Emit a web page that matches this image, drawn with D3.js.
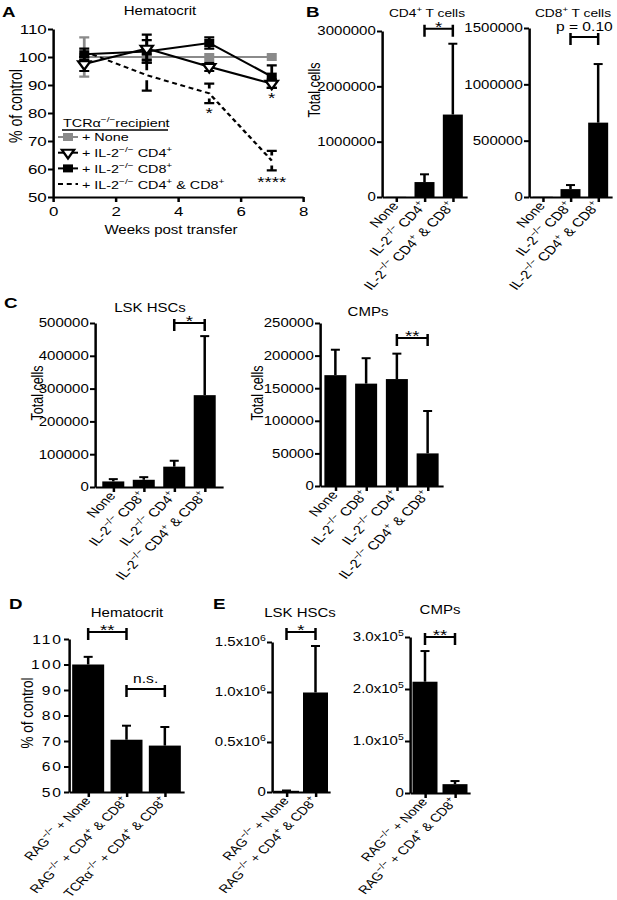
<!DOCTYPE html>
<html>
<head>
<meta charset="utf-8"/>
<script src="https://cdn.jsdelivr.net/npm/d3@7"></script>
<style>
  body { margin: 0; background: #fff; }
</style>
</head>
<body>
<svg width="617" height="900"></svg>
<script>
// ---- data ----
// A: hematocrit over time (% of control)
var aWeeks = [1, 3, 5, 7];
var aNone = [100, 100, 100, 100], aNoneSd = [7, 0, 0, 0];
var aCD4 = [97.5, 103, 96.5, 90.5], aCD4Sd = [2.5, 5, 1.5, 1.5];
var aCD8 = [101, 102, 105, 93], aCD8Sd = [2, 4, 2, 4];
var aBoth = [102, 93.5, 87, 63], aBothSd = [1, 5.5, 3.5, 3.5];
var aXTicks = [0, 2, 4, 6, 8];
var aYTicks = [50, 60, 70, 80, 90, 100, 110];
var aLegend = ["+ None", "+ IL-2{−/−} CD4{+}", "+ IL-2{−/−} CD8{+}", "+ IL-2{−/−} CD4{+} & CD8{+}"];
var aStars = [[5, 81, "*"], [7, 86.5, "*"], [7, 56.5, "****"]];

// B: T cell counts
var bCats4 = ["None", "IL-2{−/−} CD4{+}", "IL-2{−/−} CD4{+} & CD8{+}"];
var bCD4 = [3000, 270000, 1490000], bCD4Err = [0, 140000, 1280000];
var bTicks4 = [0, 1000000, 2000000, 3000000];
var bCats8 = ["None", "IL-2{−/−} CD8{+}", "IL-2{−/−} CD4{+} & CD8{+}"];
var bCD8 = [2000, 70000, 660000], bCD8Err = [0, 36000, 520000];
var bTicks8 = [0, 500000, 1000000, 1500000];

// C: progenitors
var cCats = ["None", "IL-2{−/−} CD8{+}", "IL-2{−/−} CD4{+}", "IL-2{−/−} CD4{+} & CD8{+}"];
var cLSK = [17000, 22000, 62000, 280000], cLSKErr = [7000, 8000, 18000, 180000];
var cLSKTicks = [0, 100000, 200000, 300000, 400000, 500000];
var cCMP = [170000, 157000, 164000, 50000], cCMPErr = [39000, 39000, 39000, 65000];
var cCMPTicks = [0, 50000, 100000, 150000, 200000, 250000];

// D: hematocrit in RAG recipients
var dCats = ["RAG{−/−} + None", "RAG{−/−} + CD4{+} & CD8{+}", "TCRα{−/−} + CD4{+} & CD8{+}"];
var dHct = [100, 70.5, 68.2], dHctErr = [3, 5.5, 7.3];
var dTicks = [50, 60, 70, 80, 90, 100, 110];

// E: progenitors in RAG recipients
var eCats = ["RAG{−/−} + None", "RAG{−/−} + CD4{+} & CD8{+}"];
var eLSK = [12000, 995000], eLSKErr = [3000, 465000];
var eLSKTicks = [0, 500000, 1000000, 1500000];
var eLSKLabels = ["0", "0.5x10{6}", "1.0x10{6}", "1.5x10{6}"];
var eCMP = [214000, 17000], eCMPErr = [59000, 6000];
var eCMPTicks = [0, 100000, 200000, 300000];
var eCMPLabels = ["0", "1.0x10{5}", "2.0x10{5}", "3.0x10{5}"];

// ---- drawing ----
var S = 1.25;                 // the figure is stretched horizontally
var X = function(v) { return v / S; };
var FONT = '"Liberation Sans", Arial, Helvetica, sans-serif';
var ANG = -51.3;              // gives 45 degrees after the stretch

var svg = d3.select("svg");
var root = svg.append("g").attr("transform", "scale(" + S + ",1)")
  .attr("font-family", FONT);

// text with {superscript} parts
function rich(sel, str, fs) {
  var parts = str.split(/(\{[^}]*\})/).filter(function(p) { return p; });
  var up = false;
  parts.forEach(function(p) {
    var sup = p[0] == "{";
    var t = sel.append("tspan").text(sup ? p.slice(1, -1) : p);
    if (sup) t.attr("font-size", fs * 0.7).attr("dy", up ? 0 : -fs * 0.42);
    else if (up) t.attr("dy", fs * 0.42);
    up = sup;
  });
}

function styleAxis(g, fs) {
  g.attr("font-family", FONT).attr("font-size", fs);
  g.select(".domain").attr("stroke", "#000").attr("stroke-width", 2);
  g.selectAll(".tick line").attr("stroke", "#000").attr("stroke-width", 2);
  g.selectAll(".tick text").attr("fill", "#000");
}

function txt(g, x, y, str, fs, anchor) {
  var t = g.append("text").attr("x", X(x)).attr("y", y).attr("font-size", fs)
    .attr("text-anchor", anchor || "middle").attr("fill", "#000");
  rich(t, str, fs);
  return t;
}

function ylabel(g, x, y, str, fs) {
  g.append("text").attr("transform", "translate(" + X(x) + "," + y + ") rotate(-90)")
    .attr("text-anchor", "middle").attr("font-size", fs).text(str);
}

function letter(x, y, s) {
  root.append("text").attr("x", X(x)).attr("y", y).attr("font-size", 15)
    .attr("font-weight", "bold").text(s);
}

function barPanel(p) {
  var g = root.append("g");
  var y0 = p.yMin || 0;
  var x = d3.scalePoint().domain(p.cats).range([X(p.x0), X(p.x1)]).padding(p.pad || 0.5);
  var y = d3.scaleLinear().domain([y0, p.yMax]).range([p.yBot, p.yTop]);
  var bw = X(p.barW), cap = X(4.5);
  var rows = p.cats.map(function(c, i) { return {c: c, v: p.vals[i], e: p.errs[i]}; });

  // error bars (up only)
  var eb = g.selectAll(".eb").data(rows.filter(function(d) { return d.e > 0; })).join("g");
  eb.append("line").attr("x1", function(d) { return x(d.c); }).attr("x2", function(d) { return x(d.c); })
    .attr("y1", function(d) { return y(d.v); }).attr("y2", function(d) { return y(d.v + d.e); });
  eb.append("line").attr("x1", function(d) { return x(d.c) - cap; }).attr("x2", function(d) { return x(d.c) + cap; })
    .attr("y1", function(d) { return y(d.v + d.e); }).attr("y2", function(d) { return y(d.v + d.e); });
  eb.selectAll("line").attr("stroke", "#000").attr("stroke-width", 2);

  g.selectAll(".bar").data(rows).join("rect")
    .attr("x", function(d) { return x(d.c) - bw / 2; })
    .attr("y", function(d) { return y(d.v); })
    .attr("width", bw)
    .attr("height", function(d) { return y(y0) - y(d.v); })
    .attr("fill", "#000");

  // axes
  var tfs = p.tfs || 12;
  var ya = g.append("g").attr("transform", "translate(" + X(p.x0) + ",0)")
    .call(d3.axisLeft(y).tickValues(p.ticks).tickSize(X(5)).tickSizeOuter(0).tickPadding(1)
      .tickFormat(function(d, i) { return p.labels ? p.labels[i] : d; }))
    .call(styleAxis, tfs);
  if (p.labels) ya.selectAll(".tick text").each(function(d, i) {
    var s = d3.select(this); s.text(null); rich(s, p.labels[i], tfs);
  });
  if (p.spacing) ya.selectAll(".tick text").attr("letter-spacing", p.spacing);

  g.append("g").attr("transform", "translate(0," + p.yBot + ")")
    .call(d3.axisBottom(x).tickSize(5).tickSizeOuter(0).tickFormat(""))
    .call(styleAxis, 11);

  // rotated category labels
  var lfs = p.lfs || 12;
  p.cats.forEach(function(c) {
    var t = g.append("text")
      .attr("transform", "translate(" + (x(c) + X(3)) + "," + (p.yBot + 9) + ") rotate(" + ANG + ")")
      .attr("text-anchor", "end").attr("font-size", lfs);
    rich(t, c, lfs);
  });

  // significance brackets
  (p.brackets || []).forEach(function(b) {
    var xa = x(p.cats[b[0]]), xb = x(p.cats[b[1]]), yy = y(b[2]);
    g.append("path").attr("d", "M" + xa + "," + (yy - 4) + "V" + (yy + 8) + "M" + xa + "," + yy + "H" + xb +
      "M" + xb + "," + (yy - 4) + "V" + (yy + 8))
      .attr("fill", "none").attr("stroke", "#000").attr("stroke-width", 2);
    var star = /^\*+$/.test(b[3]);
    g.append("text").attr("x", (xa + xb) / 2).attr("y", star ? yy + 3 : yy - 6)
      .attr("text-anchor", "middle").attr("font-size", star ? 15 : 12.5).text(b[3]);
  });

  if (p.title) txt(g, p.title[0], p.title[1], p.title[2], p.title[3] || 12);
  if (p.ylab) ylabel(g, p.ylab[0], p.ylab[1], p.ylab[2], p.ylab[3] || 12.5);
  return g;
}

// ---- panel A ----
var gA = root.append("g");
var ax = d3.scaleLinear().domain([0, 8]).range([X(53), X(303)]);
var ay = d3.scaleLinear().domain([50, 110]).range([197, 29]);

gA.append("g").attr("transform", "translate(0,197)")
  .call(d3.axisBottom(ax).tickValues(aXTicks).tickSize(5).tickSizeOuter(0).tickPadding(4))
  .call(styleAxis, 13.5);
gA.append("g").attr("transform", "translate(" + X(53) + ",0)")
  .call(d3.axisLeft(ay).tickValues(aYTicks).tickSize(X(5)).tickSizeOuter(0).tickPadding(1))
  .call(styleAxis, 13.5);

var aSeries = [
  {v: aNone, sd: aNoneSd, color: "#8a8a8a", sym: "square", gap: 0},
  {v: aCD8, sd: aCD8Sd, color: "#000", sym: "square", gap: 0},
  {v: aCD4, sd: aCD4Sd, color: "#000", sym: "tri", gap: 0},
  {v: aBoth, sd: aBothSd, color: "#000", sym: null, gap: 5, dash: "4,3"}
];
var aLine = d3.line().x(function(d, i) { return ax(aWeeks[i]); }).y(function(d) { return ay(d); });
var sq = d3.symbol(d3.symbolSquare, 64), tri = d3.symbol(d3.symbolTriangle, 42);

aSeries.forEach(function(s) {
  var g = gA.append("g");
  g.append("path").attr("d", aLine(s.v)).attr("fill", "none").attr("stroke", s.color)
    .attr("stroke-width", 2).attr("stroke-dasharray", s.dash || null);
  s.v.forEach(function(m, i) {
    var cx = ax(aWeeks[i]), sd = s.sd[i];
    if (!sd) return;
    [1, -1].forEach(function(sg) {
      var ya0 = ay(m) - sg * s.gap, ya1 = ay(m + sg * sd);
      if (sg * (ya0 - ya1) <= 0) return;
      g.append("path").attr("d", "M" + cx + "," + ya0 + "V" + ya1 + "M" + (cx - X(5)) + "," + ya1 + "H" + (cx + X(5)))
        .attr("stroke", s.color).attr("stroke-width", 2.2).attr("fill", "none");
    });
  });
  if (s.sym) g.selectAll(".m").data(s.v).join("path")
    .attr("d", s.sym == "tri" ? tri : sq)
    .attr("transform", function(d, i) { return "translate(" + ax(aWeeks[i]) + "," + ay(d) + ")" + (s.sym == "tri" ? " rotate(180)" : ""); })
    .attr("fill", s.sym == "tri" ? "#fff" : s.color).attr("stroke", s.color).attr("stroke-width", s.sym == "tri" ? 2 : 0);
});

aStars.forEach(function(d) {
  gA.append("text").attr("x", ax(d[0])).attr("y", ay(d[1]) + 8).attr("text-anchor", "middle")
    .attr("font-size", 15).text(d[2]);
});

// legend
txt(gA, 63, 127, "TCRα{−/−}recipient", 11.5, "start");
gA.append("line").attr("x1", X(62)).attr("x2", X(168)).attr("y1", 130).attr("y2", 130)
  .attr("stroke", "#000").attr("stroke-width", 1.5);
var legOrder = [0, 2, 1, 3];
aLegend.forEach(function(lab, i) {
  var s = aSeries[legOrder[i]], yy = 137 + i * 15.7;
  gA.append("line").attr("x1", X(58)).attr("x2", X(78)).attr("y1", yy).attr("y2", yy)
    .attr("stroke", s.color).attr("stroke-width", 2).attr("stroke-dasharray", s.dash || null);
  if (s.sym) gA.append("path").attr("d", s.sym == "tri" ? tri : sq)
    .attr("transform", "translate(" + X(68) + "," + yy + ")" + (s.sym == "tri" ? " rotate(180)" : ""))
    .attr("fill", s.sym == "tri" ? "#fff" : s.color).attr("stroke", s.color).attr("stroke-width", s.sym == "tri" ? 2 : 0);
  txt(gA, 82, yy + 4.5, lab, 11.5, "start");
});

txt(gA, 160, 15, "Hematocrit", 12);
txt(gA, 171, 234, "Weeks post transfer", 12);
ylabel(gA, 22, 106, "% of control", 14);
letter(2, 17, "A");

// ---- panel B ----
letter(306, 17, "B");
barPanel({cats: bCats4, vals: bCD4, errs: bCD4Err, ticks: bTicks4, yMax: 3000000,
  x0: 382, x1: 467, yTop: 31, yBot: 197, barW: 20,
  title: [427, 17, "CD4{+} T cells", 11], ylab: [320, 90, "Total cells"],
  brackets: [[1, 2, 3040000, "*"]]});
barPanel({cats: bCats8, vals: bCD8, errs: bCD8Err, ticks: bTicks8, yMax: 1500000,
  x0: 529, x1: 612, yTop: 28, yBot: 197, barW: 20,
  title: [573, 17, "CD8{+} T cells", 11],
  brackets: [[1, 2, 1420000, "p = 0.10"]]});

// ---- panel C ----
letter(4, 308, "C");
barPanel({cats: cCats, vals: cLSK, errs: cLSKErr, ticks: cLSKTicks, yMax: 500000,
  x0: 95, x1: 223, yTop: 323, yBot: 487, barW: 22, pad: 0.6,
  title: [150, 312, "LSK HSCs"], ylab: [43, 393, "Total cells"],
  brackets: [[2, 3, 500000, "*"]]});
barPanel({cats: cCats, vals: cCMP, errs: cCMPErr, ticks: cCMPTicks, yMax: 250000,
  x0: 320, x1: 443, yTop: 323, yBot: 486, barW: 22,
  title: [368, 316, "CMPs"], ylab: [263, 393, "Total cells"],
  brackets: [[2, 3, 227000, "**"]]});

// ---- panel D ----
letter(9, 609, "D");
barPanel({cats: dCats, vals: dHct, errs: dHctErr, ticks: dTicks, yMin: 50, yMax: 110,
  x0: 69, x1: 184, yTop: 639, yBot: 792, barW: 32, spacing: 1.5, tfs: 12.5, lfs: 11.5,
  title: [127, 617, "Hematocrit"], ylab: [33, 713, "% of control", 13.5],
  brackets: [[0, 1, 112.7, "**"], [1, 2, 90.4, "n.s."]]});

// ---- panel E ----
letter(213, 609, "E");
barPanel({cats: eCats, vals: eLSK, errs: eLSKErr, ticks: eLSKTicks, labels: eLSKLabels, yMax: 1500000,
  x0: 272, x1: 330, yTop: 642, yBot: 792, barW: 25, lfs: 11.5,
  title: [300, 617, "LSK HSCs"],
  brackets: [[0, 1, 1600000, "*"]]});
barPanel({cats: eCats, vals: eCMP, errs: eCMPErr, ticks: eCMPTicks, labels: eCMPLabels, yMax: 300000,
  x0: 410, x1: 470, yTop: 637, yBot: 793, barW: 25, lfs: 11.5,
  title: [440, 614, "CMPs"],
  brackets: [[0, 1, 300000, "**"]]});
</script>
</body>
</html>
